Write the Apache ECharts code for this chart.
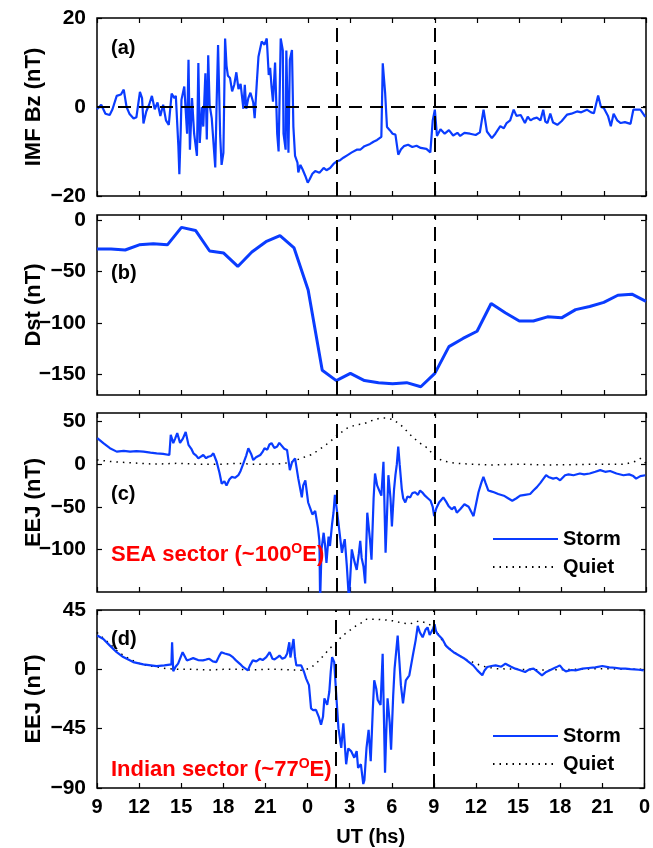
<!DOCTYPE html>
<html>
<head>
<meta charset="utf-8">
<script src="https://cdn.jsdelivr.net/npm/echarts@6/dist/echarts.min.js"></script>
<style>
  html, body { margin: 0; padding: 0; background: #fff; }
  #chart { width: 653px; height: 848px; }
</style>
</head>
<body>
<div id="chart"></div>
<script>
// time axis: hours after 09 UT of the first day (0..39)
const stormStart = 17;   // 02 UT
const stormEnd = 24;     // 09 UT

// (a) IMF Bz
const bzT = [0, 0.3, 0.6, 0.9, 1.1, 1.4, 1.7, 1.9, 2.1, 2.3, 2.6, 2.8, 3.05, 3.2, 3.3, 3.5, 3.7, 3.9, 4.1, 4.3, 4.5, 4.7, 4.9, 5.1, 5.3, 5.5, 5.6, 5.78, 5.85, 5.95, 6.0, 6.2, 6.4, 6.5, 6.6, 6.75, 6.9, 7.1, 7.2, 7.3, 7.45, 7.55, 7.7, 7.8, 7.9, 8.0, 8.15, 8.4, 8.5, 8.6, 8.75, 8.85, 8.98, 9.1, 9.2, 9.3, 9.45, 9.6, 9.75, 9.9, 10.05, 10.2, 10.4, 10.5, 10.6, 10.75, 10.9, 11.1, 11.2, 11.35, 11.47, 11.7, 11.9, 12.06, 12.2, 12.3, 12.4, 12.5, 12.65, 12.8, 12.9, 13.05, 13.2, 13.25, 13.4, 13.45, 13.6, 13.7, 13.85, 13.95, 14.07, 14.24, 14.3, 14.45, 14.6, 14.8, 14.97, 15.1, 15.3, 15.5, 15.8, 16.1, 16.3, 16.56, 16.8, 17.03, 17.25, 17.5, 17.8, 18.1, 18.45, 18.7, 19.0, 19.4, 19.64, 19.9, 20.2, 20.3, 20.47, 20.6, 20.8, 21.0, 21.2, 21.4, 21.6, 21.8, 22.1, 22.4, 22.7, 23.0, 23.4, 23.68, 23.85, 24.0, 24.15, 24.4, 24.7, 25.0, 25.3, 25.6, 25.8, 26.1, 26.5, 26.9, 27.2, 27.46, 27.7, 28.05, 28.3, 28.65, 28.9, 29.1, 29.35, 29.6, 29.8, 30.1, 30.4, 30.6, 30.8, 31.0, 31.25, 31.5, 31.7, 31.85, 32.0, 32.2, 32.4, 32.7, 33.0, 33.4, 33.7, 34.1, 34.4, 34.8, 35.1, 35.3, 35.6, 35.8, 36.0, 36.3, 36.5, 36.7, 36.95, 37.2, 37.5, 37.9, 38.1, 38.6, 38.95];
const bzV = [-0.5, 0.5, -1.5, -1.8, -0.5, 2.5, 2.8, 3.9, 0, -1.5, -2.6, -2.3, 3.4, 2.0, -3.7, -1.0, 0.5, 2.5, -0.5, 1.0, -2.0, 0.5, -3.0, -4.0, 3.0, 2.0, 2.5, -8.8, -15.1, -5, 1.6, 4.6, -6, 10.6, -9.6, 2, -6, -11, 9.9, -8.1, 0, -4.4, 7.6, -7.3, 11.6, 0.5, -2.5, -13.6, 1, 13.9, -6.5, -13, -10.3, 15.4, 9.3, 7, 6.5, 3.5, 5, 7.8, 4, 5.2, -0.4, 5, -0.4, 2, 3.2, 1, -2.5, 5.3, 11.3, 14.7, 14, 15.4, 7.2, 8.8, 4.5, 1.2, 10, -6, -10, 15.4, 12.7, -6, -9.6, 12.7, -10.3, 10.6, 12.8, -4.4, -11, -12.5, -14.7, -13, -14, -15.5, -17, -16.3, -15, -14.4, -14.8, -13.7, -14.2, -13.7, -12.8, -12.2, -12, -11.4, -10.8, -10.2, -9.6, -9.6, -8.8, -8.3, -7.8, -7.4, -6.7, 9.8, 3.1, -4.5, -5.2, -6, -6.2, -10.7, -9.5, -8.8, -8.5, -9, -8.7, -9.2, -9.4, -10.2, -3, -0.6, -6.5, -5, -6, -5.2, -6.4, -5.8, -6.5, -5.8, -6, -6.3, -5.7, -0.6, -5.5, -7, -6, -4.3, -4.8, -3.6, -3, -0.6, -2, -1.8, -3.6, -2.2, -3, -2.6, -2.4, -3, -0.6, -3.3, -3.6, -1.5, -3.5, -4, -3.2, -1.7, -1.5, -1, -1.2, -0.6, -1.2, -1.4, 2.6, 0, -0.2, -2, -4.3, -1.5, -3, -3.6, -3.4, -3.8, -0.6, -0.6, -2.2];

// (b) Dst, hourly
const dstT = [0, 1, 2, 3, 4, 5, 6, 7, 8, 9, 10, 11, 12, 13, 14, 15, 16, 17, 18, 19, 20, 21, 22, 23, 24, 25, 26, 27, 28, 29, 30, 31, 32, 33, 34, 35, 36, 37, 38, 39];
const dstV = [-28, -28, -29, -24, -23, -24, -7, -10, -30, -32, -45, -31, -21, -15, -27, -68, -146, -156, -149, -156, -158, -159, -158, -162, -149, -123, -115, -108, -81, -90, -98, -98, -94, -95, -87, -84, -80, -73, -72, -79];

// (c) EEJ, SEA sector
const seaStormT = [0.02, 0.45, 0.92, 1.4, 1.9, 2.35, 2.8, 3.3, 3.8, 4.24, 4.7, 5.14, 5.24, 5.42, 5.55, 5.7, 5.9, 6.1, 6.3, 6.5, 6.7, 6.85, 7.05, 7.2, 7.4, 7.55, 7.75, 7.9, 8.1, 8.27, 8.5, 8.7, 8.86, 9.05, 9.2, 9.4, 9.57, 9.8, 10.04, 10.2, 10.4, 10.6, 10.75, 10.95, 11.1, 11.3, 11.6, 11.75, 11.9, 12.1, 12.25, 12.4, 12.6, 12.8, 12.95, 13.1, 13.3, 13.5, 13.7, 13.85, 14.07, 14.3, 14.45, 14.55, 14.65, 14.8, 15.0, 15.15, 15.3, 15.5, 15.7, 15.8, 15.85, 15.95, 16.1, 16.2, 16.3, 16.45, 16.55, 16.7, 16.8, 16.9, 17.05, 17.15, 17.3, 17.4, 17.5, 17.6, 17.75, 17.9, 18.0, 18.1, 18.3, 18.45, 18.6, 18.7, 18.8, 18.93, 19.05, 19.2, 19.3, 19.4, 19.5, 19.65, 19.75, 19.9, 20.0, 20.2, 20.35, 20.5, 20.6, 20.7, 20.85, 20.95, 21.1, 21.2, 21.3, 21.4, 21.5, 21.65, 21.75, 21.9, 22.05, 22.25, 22.4, 22.6, 22.8, 22.95, 23.1, 23.3, 23.5, 23.7, 23.85, 23.95, 24.1, 24.3, 24.45, 24.6, 24.8, 24.97, 25.2, 25.4, 25.56, 25.8, 26.1, 26.4, 26.75, 26.95, 27.1, 27.3, 27.45, 27.6, 27.8, 28.0, 28.2, 28.5, 28.9, 29.2, 29.5, 29.8, 30.06, 30.4, 30.77, 31.0, 31.25, 31.5, 31.72, 31.9, 32.07, 32.4, 32.65, 32.9, 33.25, 33.5, 33.85, 34.3, 34.6, 35.0, 35.4, 35.75, 36.1, 36.45, 36.9, 37.4, 37.8, 38.1, 38.3, 38.6, 38.95];
const seaStormV = [30.6, 24.6, 18.7, 14.7, 15.5, 14.7, 15.2, 14.7, 13.5, 12.7, 12, 10.7, 34.5, 24.6, 30, 36.5, 25, 30, 37.7, 22.6, 18, 12.7, 10, 6.7, 9, 10.7, 7, 8.7, 9.5, 12.7, 2.8, -10, -23, -20, -25, -18, -15, -16, -13, -8, 0.8, 10, 18.7, 12, 4.8, 8, 10.7, 14, 18.7, 17, 23, 24.6, 19, 20.6, 25, 22, 18, 16.7, -7, 2, 6.7, -17, -30, -39, -25, -19, -45, -52, -59, -55, -75, -90, -160, -100, -80.5, -95, -116, -85, -96, -70, -57, -36, -55, -69, -90, -104, -95, -88, -120, -160, -130, -100, -115, -124, -105, -90, -110, -120, -140, -57, -57, -90, -112, -40, -11, -25, -29, -37, 2.8, -104, -60, -13, -40, -73, -30, -13, 0, 20.6, 0, -29, -40, -45, -38, -39, -34, -33, -36, -31, -33, -37, -40, -43, -50, -61, -52, -45, -42, -39, -44, -49, -53, -50, -57, -53, -47, -50, -61, -45, -33, -22, -15, -22, -31, -32, -33, -35, -37, -40, -43, -40, -37, -36, -35, -31, -27, -22, -17, -13, -15, -17, -16, -19, -13, -12, -13, -11, -12, -11, -9, -7, -9, -8, -11, -13, -12, -14, -17, -14, -13];
const seaQuietT = [0, 0.5, 1, 2, 3, 4, 5, 5.7, 7, 8, 9, 10, 11, 12, 13, 13.8, 14.2, 14.7, 15.2, 15.6, 16.1, 16.6, 17.1, 17.5, 17.8, 18.45, 18.9, 19.5, 20.1, 20.6, 21.05, 21.5, 21.8, 22.1, 22.5, 23.0, 23.5, 24.0, 24.6, 25.5, 26.5, 28, 30, 32, 34, 36, 37.5, 38.2, 38.6, 39];
const seaQuietV = [5, 4, 3, 2, 1, 0, 0.5, 1, 0, 0, 0, 1, 0, 0, 0.5, 2, 5, 8, 11, 15, 20.6, 27, 34.5, 39, 42.5, 46.4, 47, 51, 54, 54, 52, 47, 42.5, 37, 30.6, 24, 18.7, 8.7, 3.6, 1, 0, -1, 0, -1, -0.5, 0, 0, 3, 6.7, 1];

// (d) EEJ, Indian sector
const indStormT = [0.02, 0.45, 0.92, 1.4, 1.87, 2.58, 3.3, 4.24, 4.8, 5.3, 5.35, 5.43, 5.6, 5.78, 6.1, 6.25, 6.4, 6.6, 6.85, 7.2, 7.55, 7.8, 8.0, 8.25, 8.5, 8.7, 8.86, 9.1, 9.45, 9.7, 9.9, 10.2, 10.4, 10.75, 10.9, 11.1, 11.35, 11.6, 11.8, 12.06, 12.2, 12.3, 12.5, 12.65, 12.85, 13.0, 13.2, 13.4, 13.55, 13.7, 13.78, 13.85, 14.0, 14.1, 14.2, 14.55, 14.75, 14.9, 15.1, 15.25, 15.4, 15.6, 15.8, 15.96, 16.1, 16.2, 16.4, 16.55, 16.65, 16.75, 16.9, 17.03, 17.2, 17.4, 17.55, 17.75, 17.9, 18.1, 18.33, 18.5, 18.6, 18.8, 18.97, 19.05, 19.2, 19.35, 19.5, 19.65, 19.75, 19.9, 20.0, 20.2, 20.35, 20.52, 20.6, 20.7, 20.85, 20.95, 21.1, 21.2, 21.42, 21.55, 21.65, 21.8, 22.0, 22.25, 22.5, 22.7, 22.85, 23.0, 23.2, 23.4, 23.55, 23.7, 23.8, 23.95, 24.05, 24.15, 24.26, 24.6, 24.85, 25.1, 25.4, 25.8, 26.2, 26.5, 26.8, 27.1, 27.45, 27.6, 27.8, 28.1, 28.4, 28.8, 29.1, 29.5, 29.8, 30.1, 30.5, 30.8, 31.1, 31.4, 31.7, 32.0, 32.3, 32.7, 32.97, 33.2, 33.4, 33.8, 34.1, 34.6, 35.0, 35.5, 36.0, 36.5, 36.9, 37.3, 37.65, 38.0, 38.3, 38.6, 38.95];
const indStormV = [25.6, 23, 18, 13, 9.3, 5.5, 3.8, 2.5, 3, 3.8, 20.5, -1.5, 2, 4.3, 13, 10, 6.8, 7.5, 8.5, 7, 6.8, 7.5, 8, 6, 5.5, 10, 13, 12, 11, 9, 6.8, 4, 1.8, -0.8, 3, 6.8, 6, 8, 7, 9.3, 8, 13, 8, 7.5, 9, 10.5, 8, 9, 12, 20.5, 9, 8, 23, 10, 3, 3, -2, -7, -12, -29.6, -31, -30.8, -36, -42, -36, -22, -27, -17, -2, 9.3, 5.5, -17, -44.6, -59.6, -41, -72, -60, -62, -67, -62, -74.7, -72, -87, -84, -59.6, -45.9, -69.7, -30, -8.3, -15, -23.3, -27, 11.8, -78.4, -50, -22, -40, -61, -20, 0.5, 25.6, 5, -12, -25.8, -8.3, -4.5, 10.5, 22, 33, 28, 24.3, 30, 31.8, 26, 25.6, 31, 34.3, 29, 26.8, 23, 18, 15.5, 13, 10.5, 8, 5.5, 3, -0.8, -4.5, -1, 1.8, 2.5, 3, 2, 4.3, 2, 0.5, -0.5, -2, 0, 0.5, -2, -4.5, -2, -0.5, 1.5, 3, 0, -1.5, -0.5, -0.8, 0.5, 1, 1.5, 2.5, 1.5, 1.2, 0.5, 0.5, 0.2, 0, -0.3, -0.8];
const indQuietT = [0, 0.5, 0.92, 1.4, 1.87, 2.5, 3.05, 3.6, 4.24, 5, 6, 7, 8, 9, 10, 11, 12, 13, 14, 14.7, 15.2, 15.6, 16.1, 16.55, 17.0, 17.5, 18.0, 18.45, 18.9, 19.2, 19.9, 20.5, 21.05, 21.6, 22.25, 22.6, 22.95, 23.5, 24.05, 24.4, 24.85, 25.3, 25.8, 26.3, 26.75, 27.2, 27.7, 28.5, 30, 32, 34, 36, 38, 39];
const indQuietV = [28, 23, 19.3, 14.5, 10.5, 7, 4.3, 2.8, 1.8, 0.5, 0, 0, -0.5, 0, 0, -0.5, 0, 0, -0.5, -0.8, 1, 4.3, 10, 15.5, 20, 25.6, 29.5, 33, 35.6, 38, 38, 37.5, 36.8, 35.5, 34.3, 35.5, 36.8, 35, 31.8, 25, 18, 14, 10.5, 7.5, 5.5, 3.5, 1.8, 0.5, 0, -0.5, 0, 0.5, 0, 0];

const zip = (t, v) => t.map((x, i) => [x, v[i]]);
const FONT = 'Liberation Sans';
const BLUE = '#0a3cff';
const minus = v => String(v).replace('-', '\u2212');

const grids = [
  { left: 97, right: 7, top: 18, height: 178 },
  { left: 97, right: 7, top: 215, height: 180 },
  { left: 97, right: 7, top: 413, height: 179 },
  { left: 97, right: 7, top: 610, height: 179 }
].map(g => Object.assign(g, { show: true, borderColor: '#000', borderWidth: 1.5, containLabel: false }));

const yCfg = [
  { min: -20, max: 20, interval: 20, name: 'IMF Bz (nT)' },
  { min: -170, max: 5, ticks: [-150, -100, -50, 0], name: 'Dst (nT)' },
  { min: -150, max: 60, ticks: [-100, -50, 0, 50], name: 'EEJ (nT)' },
  { min: -90, max: 45, interval: 45, name: 'EEJ (nT)' }
];

const tickStyle = { inside: true, length: 5, lineStyle: { color: '#000', width: 1.2 } };
const xAxes = [];
const yAxes = [];
for (let i = 0; i < 4; i++) {
  ['bottom', 'top'].forEach(pos => {
    const main = pos === 'bottom';
    xAxes.push({
      gridIndex: i, type: 'value', position: pos, min: 0, max: 39, interval: 3,
      axisLine: { show: false, onZero: false },
      axisTick: Object.assign({}, tickStyle),
      splitLine: { show: false },
      axisLabel: {
        show: main && i === 3, margin: 9, color: '#000', fontFamily: FONT, fontWeight: 'bold', fontSize: 20,
        formatter: v => String((9 + v) % 24)
      },
      name: main && i === 3 ? 'UT (hs)' : '',
      nameLocation: 'middle', nameGap: 39, nameMoveOverlap: false,
      nameTextStyle: { color: '#000', fontFamily: FONT, fontWeight: 'bold', fontSize: 20 }
    });
  });
  ['left', 'right'].forEach(pos => {
    const main = pos === 'left';
    const c = yCfg[i];
    const ax = {
      gridIndex: i, type: 'value', position: pos, min: c.min, max: c.max,
      axisLine: { show: false, onZero: false },
      axisTick: Object.assign({}, tickStyle),
      splitLine: { show: false },
      axisLabel: {
        show: main, margin: 11, color: '#000', fontFamily: FONT, fontWeight: 'bold', fontSize: 21,
        formatter: minus
      },
      name: main ? c.name : '',
      nameLocation: 'middle', nameGap: 52, nameRotate: 90, nameMoveOverlap: false,
      nameTextStyle: { color: '#000', fontFamily: FONT, fontWeight: 'bold', fontSize: 22 }
    };
    if (c.interval) ax.interval = c.interval;
    if (c.ticks) {
      ax.axisTick.customValues = c.ticks;
      ax.axisLabel.customValues = c.ticks;
    }
    yAxes.push(ax);
  });
}

const dashV = { type: [14, 8], color: '#000', width: 2 };
const markLines = (extra) => ({
  silent: true, symbol: ['none', 'none'], animation: false,
  label: { show: false },
  lineStyle: dashV,
  data: [{ xAxis: stormStart }, { xAxis: stormEnd }].concat(extra || [])
});

const lineSeries = (name, idx, data, style, withMarks, extra) => {
  const s = {
    name, type: 'line', xAxisIndex: idx * 2, yAxisIndex: idx * 2, data,
    symbol: 'none', showSymbol: false, lineStyle: style, itemStyle: { color: style.color },
    clip: true, z: 2
  };
  if (withMarks) s.markLine = markLines(extra);
  return s;
};

const stormStyle = { color: BLUE, width: 2.2 };
const quietStyle = { color: '#000', width: 1.5, type: [1.5, 5] };

const labelText = (text, top) => ({
  text, left: 111, top, padding: 0,
  textStyle: { color: '#000', fontFamily: FONT, fontWeight: 'bold', fontSize: 20 }
});
const sectorText = (main, deg, top) => ({
  text: '{a|' + main + ' (~' + deg + '}{b|O}{a|E)}', left: 111, top, padding: 0,
  textStyle: {
    rich: {
      a: { color: '#ff0000', fontFamily: FONT, fontWeight: 'bold', fontSize: 22, lineHeight: 26 },
      b: { color: '#ff0000', fontFamily: FONT, fontWeight: 'bold', fontSize: 14, verticalAlign: 'top', lineHeight: 24 }
    }
  }
});

const legendCfg = top => ({
  data: ['Storm', 'Quiet'], orient: 'vertical', left: 492, top, padding: 0,
  itemWidth: 65, itemHeight: 14, itemGap: 8,
  selectedMode: false,
  itemStyle: { opacity: 0 },
  textStyle: { color: '#000', fontFamily: FONT, fontWeight: 'bold', fontSize: 20 }
});

const option = {
  animation: false,
  backgroundColor: '#fff',
  grid: grids,
  xAxis: xAxes,
  yAxis: yAxes,
  title: [
    labelText('(a)', 38),
    labelText('(b)', 263),
    labelText('(c)', 484),
    labelText('(d)', 629),
    sectorText('SEA sector', '100', 542),
    sectorText('Indian sector', '77', 757)
  ],
  legend: [legendCfg(529), legendCfg(726)],
  series: [
    lineSeries('IMF Bz', 0, zip(bzT, bzV), stormStyle, true, [{ yAxis: 0, lineStyle: { type: [13, 8], color: '#000', width: 2 } }]),
    lineSeries('Dst', 1, zip(dstT, dstV), { color: BLUE, width: 3 }, true),
    lineSeries('Quiet', 2, zip(seaQuietT, seaQuietV), quietStyle, false),
    lineSeries('Storm', 2, zip(seaStormT, seaStormV), stormStyle, true),
    lineSeries('Quiet', 3, zip(indQuietT, indQuietV), quietStyle, false),
    lineSeries('Storm', 3, zip(indStormT, indStormV), stormStyle, true)
  ]
};

const chart = echarts.init(document.getElementById('chart'), null, { renderer: 'canvas' });
chart.setOption(option);
</script>
</body>
</html>
